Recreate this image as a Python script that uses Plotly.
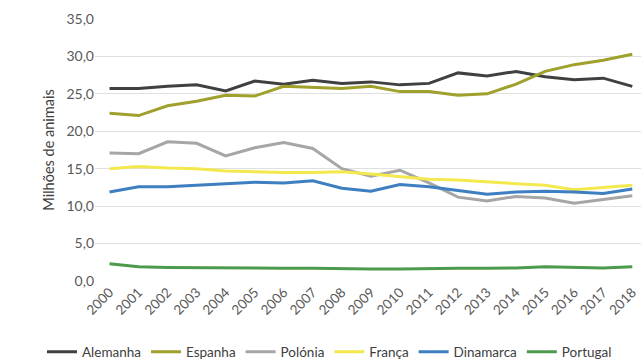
import plotly.graph_objects as go

anos = [str(a) for a in range(2000, 2019)]

alemanha = [25.7, 25.7, 26.0, 26.2, 25.4, 26.7, 26.3, 26.8, 26.4, 26.6,
            26.2, 26.4, 27.8, 27.4, 28.0, 27.3, 26.9, 27.1, 26.0]
espanha = [22.4, 22.1, 23.4, 24.0, 24.8, 24.7, 26.0, 25.8, 25.7, 26.0,
           25.3, 25.3, 24.8, 25.0, 26.3, 28.0, 28.9, 29.5, 30.3]
polonia = [17.1, 17.0, 18.6, 18.4, 16.7, 17.8, 18.5, 17.7, 15.0, 14.0,
           14.8, 13.1, 11.2, 10.7, 11.3, 11.1, 10.4, 10.9, 11.4]
franca = [15.0, 15.3, 15.1, 15.0, 14.7, 14.6, 14.5, 14.5, 14.6, 14.3,
          14.0, 13.6, 13.5, 13.2, 13.0, 12.8, 12.2, 12.5, 12.8]
dinamarca = [11.9, 12.6, 12.6, 12.8, 13.1, 13.2, 13.1, 13.4, 12.4, 12.0,
             12.9, 12.6, 12.1, 11.6, 11.9, 12.0, 11.9, 11.7, 12.3]
portugal = [2.3, 1.9, 1.8, 1.75, 1.7, 1.7, 1.7, 1.7, 1.6, 1.6,
            1.6, 1.7, 1.7, 1.7, 1.75, 1.9, 1.8, 1.75, 1.9]

series = [
    ("Alemanha", alemanha, "#404040"),
    ("Espanha", espanha, "#a0a02c"),
    ("Polónia", polonia, "#a6a6a6"),
    ("França", franca, "#f2e94e"),
    ("Dinamarca", dinamarca, "#3d7fc1"),
    ("Portugal", portugal, "#4c9a4c"),
]

fig = go.Figure()
for nome, valores, cor in series:
    fig.add_trace(go.Scatter(
        x=anos, y=valores, name=nome, mode="lines",
        line=dict(color=cor, width=3),
    ))

W, H = 641, 364
left, top, bottom = 95, 19, 83  # space for axis labels and legend

font = "Lato, Open Sans, sans-serif"
fig.update_layout(
    width=W, height=H,
    margin=dict(l=0, r=0, t=0, b=0, autoexpand=False),
    paper_bgcolor="white", plot_bgcolor="white",
    separators=",.",
    font=dict(family=font, size=13, color="#595959"),
    showlegend=True,
    legend=dict(
        orientation="h",
        x=0.0655, xanchor="left",
        y=12 / H, yanchor="middle",
        bgcolor="rgba(0,0,0,0)",
        font=dict(size=13.5, color="#404040"), itemwidth=30,
        tracegroupgap=0, borderwidth=0,
    ),
    xaxis=dict(
        type="category", range=[-0.5, 18.3], tickangle=-45,
        domain=[left / W, 1],
        showgrid=False, showline=False, ticks="", automargin=False,
        tickfont=dict(size=13.5, color="#595959"),
    ),
    yaxis=dict(
        range=[0, 35], dtick=5, tickformat=".1f", automargin=False,
        domain=[bottom / H, 1 - top / H],
        showgrid=True, gridcolor="#e0e0e0", gridwidth=1,
        zeroline=False, showline=False, ticks="",
        tickfont=dict(size=14, color="#595959"),
        title=dict(text="Milhões de animais", font=dict(size=14.5, color="#404040"), standoff=8),
    ),
)

fig.write_html("out.html")
